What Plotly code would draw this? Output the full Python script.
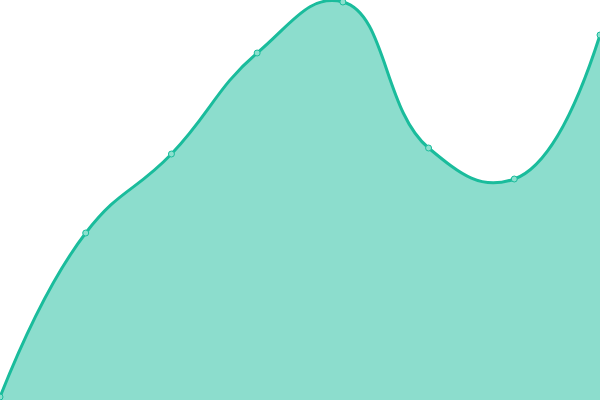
import plotly.graph_objects as go

# Datos (posición x uniforme, altura de cada punto)
x_vals = [0, 1, 2, 3, 4, 5, 6, 7]
y_vals = [3, 167, 246, 347, 398, 252, 221, 365]

verde = '#1abc9c'

fig = go.Figure(go.Scatter(
    x=x_vals, y=y_vals,
    mode='lines+markers',
    line=dict(color=verde, width=3, shape='spline', smoothing=1.3),
    fill='tozeroy',
    fillcolor='rgba(26,188,156,0.5)',
    marker=dict(size=6, color='#8be0ce', line=dict(color=verde, width=1)),
    hoverinfo='skip'
))

fig.update_layout(
    width=600, height=400,
    margin=dict(l=0, r=0, t=0, b=0),
    paper_bgcolor='white', plot_bgcolor='white',
    showlegend=False,
    xaxis=dict(visible=False, range=[0, 7]),
    yaxis=dict(visible=False, range=[0, 400])
)

# Quitar el margen por defecto del body para que el gráfico ocupe toda la ventana
fig.write_html("out.html", config={'displayModeBar': False},
               post_script="document.body.style.margin='0';")
